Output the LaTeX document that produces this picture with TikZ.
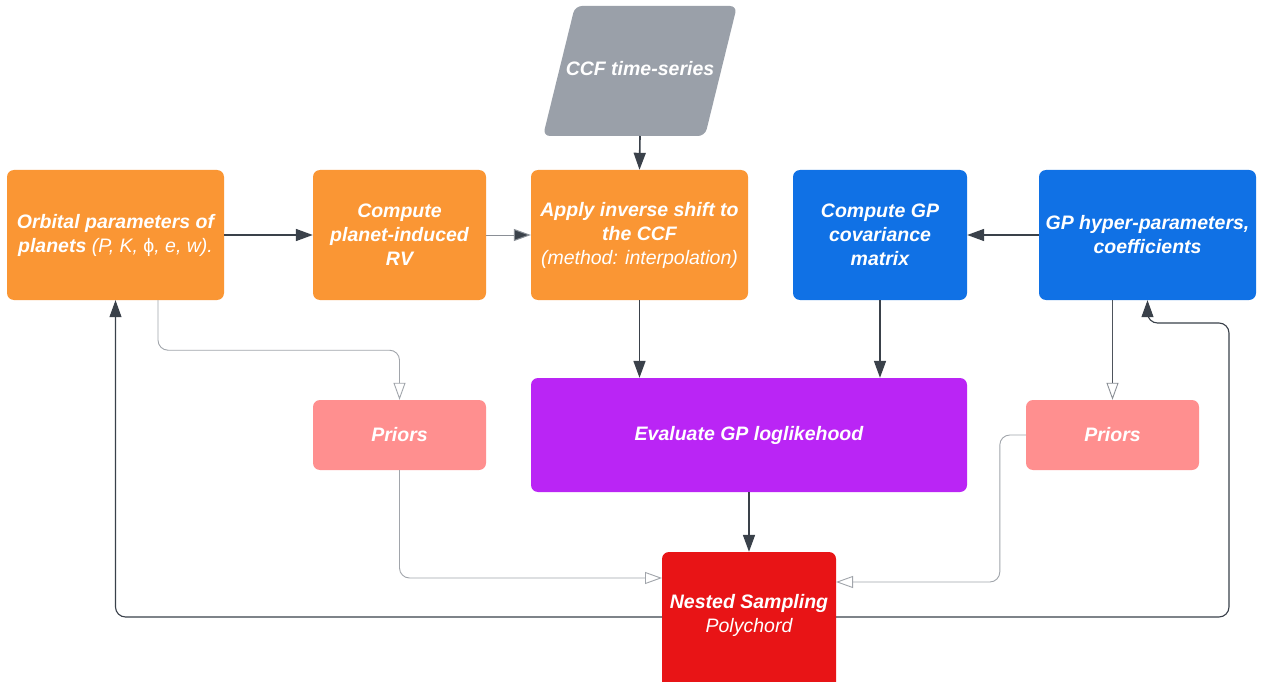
\documentclass[tikz,border=0pt]{standalone}
\usepackage{fontspec}
\setmainfont{Liberation Sans}
\usetikzlibrary{arrows.meta}
\definecolor{orng}{HTML}{FA9634}
\definecolor{blu}{HTML}{1071E5}
\definecolor{purp}{HTML}{BA25F5}
\definecolor{pnk}{HTML}{FF8F8F}
\definecolor{redd}{HTML}{E81416}
\definecolor{gry}{HTML}{9AA0A9}
\definecolor{drk}{HTML}{3A414A}
\definecolor{thn}{HTML}{8A8F96}
\tikzset{
  box/.style={rectangle, rounded corners=7pt, inner sep=3pt, text=white, align=center,
    font=\fontsize{19.5}{24}\selectfont\bfseries\itshape},
  darr/.style={draw=drk, line width=1.6pt, -{Triangle[length=17pt,width=12pt]}},
  larr/.style={draw=drk, line width=1.1pt, rounded corners=10pt, -{Triangle[length=17pt,width=12pt]}},
  garr/.style={draw=thn, line width=1pt, -{Triangle[length=17pt,width=12pt,fill=drk]}},
  oarr/.style={draw=thn!80, line width=0.9pt, rounded corners=10pt, -{Triangle[open,length=17pt,width=12pt]}},
  oarrd/.style={draw=drk!90, line width=0.9pt, -{Triangle[open,length=17pt,width=12pt,color=thn]}},
}
\begin{document}
\begin{tikzpicture}[x=1pt,y=-1pt]
\clip (0,0) rectangle (1262,682);
\fill[white] (0,0) rectangle (1262,682);
% CCF parallelogram
\fill[gry, rounded corners=7pt] (575,6) -- (737,6) -- (705,136) -- (543,136) -- cycle;
\node[box, minimum width=130pt, minimum height=130pt, inner sep=0pt] (ccf) at (640,69) {CCF time-series};
\node[box, fill=orng, minimum width=217pt, minimum height=130pt] (orb) at (115.5,235)
  {Orbital parameters of\\planets {\mdseries(\textit{P}, \textit{K}, {\upshape ϕ}, \textit{e}, \textit{w}).}};
\node[box, fill=orng, minimum width=173pt, minimum height=130pt] (rv) at (399.5,235)
  {Compute\\planet-induced\\RV};
\node[box, fill=orng, minimum width=217pt, minimum height=130pt] (app) at (639.5,235)
  {Apply inverse shift to\\the CCF\\{\mdseries(method: interpolation)}};
\node[box, fill=blu, minimum width=174pt, minimum height=130pt] (cov) at (880,235)
  {Compute GP\\covariance\\matrix};
\node[box, fill=blu, minimum width=217pt, minimum height=130pt] (gh) at (1147.5,235)
  {GP hyper-parameters,\\coefficients};
\node[box, fill=pnk, minimum width=173pt, minimum height=70pt] (pl) at (399.5,435) {Priors};
\node[box, fill=purp, minimum width=436pt, minimum height=114pt] (ev) at (749,435) {Evaluate GP loglikehood};
\node[box, fill=pnk, minimum width=173pt, minimum height=70pt] (pr) at (1112.5,435) {Priors};
\node[box, fill=redd, minimum width=174pt, minimum height=140pt] (ns) at (749,622)
  {Nested Sampling\\{\mdseries Polychord}\\[-6pt]};
\coordinate (rt) at (1229,323);
% connectors
\draw[darr] (orb.east) -- (rv.west);
\draw[garr] (rv.east) -- (app.west);
\draw[darr] (ccf.south |- 0,136) -- (app.north);
\draw[darr] (gh.west) -- (cov.east);
\draw[darr] (app.south) -- (ev.north -| app.south);
\draw[darr] (cov.south) -- (ev.north -| cov.south);
\draw[darr] (ev.south) -- (ns.north);
\draw[oarr] ([xshift=42.5pt]orb.south) -- ++(0,50) -| (pl.north);
\draw[oarr] (pl.south) |- (662,578);
\draw[oarr] (pr.west) -- ++(-26,0) |- (836,582);
\draw[oarrd] (pr.north |- gh.south) -- (pr.north);
\draw[larr] (662,617) -| (orb.south);
\draw[larr] (836,617) -| (rt) -| (gh.south);
\end{tikzpicture}
\end{document}
